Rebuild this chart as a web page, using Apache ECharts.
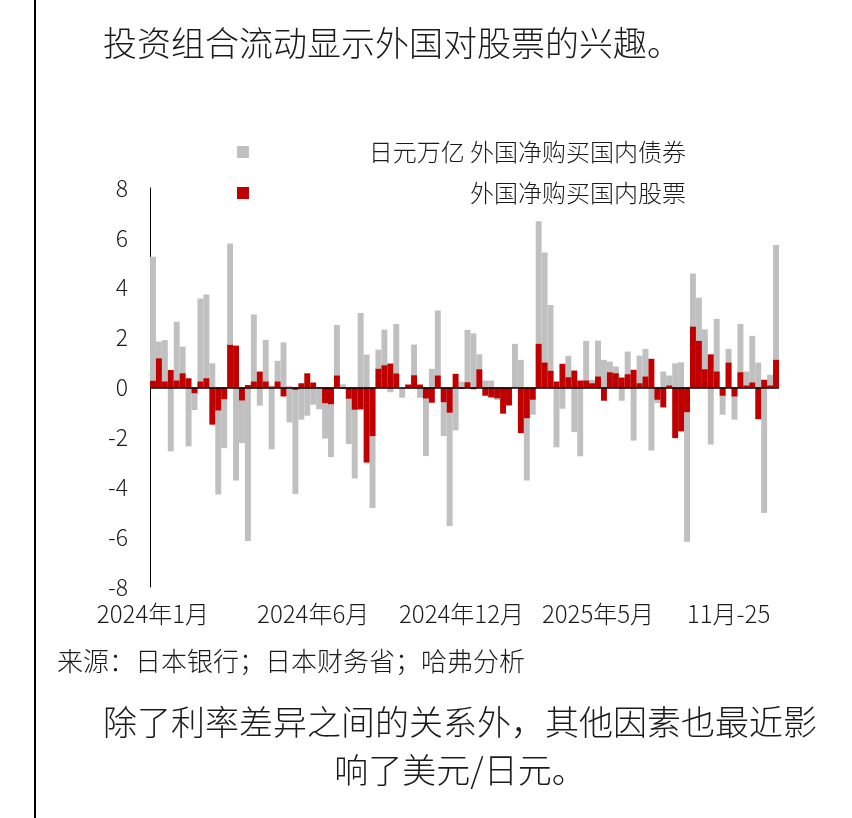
<!DOCTYPE html>
<html>
<head>
<meta charset="utf-8">
<script src="https://cdn.jsdelivr.net/npm/echarts@6/dist/echarts.min.js"></script>
<style>
    html, body { margin: 0; padding: 0; background: #fff; }
    #chart { width: 852px; height: 818px; position: relative; }
    #edge { position: absolute; left: 34px; top: 0; width: 2px; height: 818px; background: #000; }
</style>
</head>
<body>
<div id="chart"></div>
<div id="edge"></div>
<script>
// 每周数据 2024年1月 - 2025年12月 (日元万亿)
var bondName = '日元万亿 外国净购买国内债券';
var stockName = '外国净购买国内股票';

var bonds = [
    5.24, 1.84, 1.9, -2.56, 2.64, 1.64, -2.36, -0.9, 3.57, 3.73,
    0.97, -4.29, -2.43, 5.77, -3.73, -2.23, -6.16, 2.93, -0.73, 1.91,
    -2.48, 1.07, 1.81, -1.4, -4.27, -1.29, -1.13, -0.69, -0.87, -2.05,
    -2.79, 2.51, 0.13, -2.27, -3.65, 2.99, 1.32, -4.83, 1.52, 2.32,
    -0.19, 2.55, -0.41, -0.05, 1.72, -0.41, -2.75, 0.75, 3.09, -1.95,
    -5.55, -1.72, 0.23, 2.31, 2.17, 1.33, 0.28, 0.28, -0.5, -0.2,
    0, 1.75, 1.11, -3.73, -1.09, 6.67, 5.41, 3.31, -2.4, -0.85,
    1.27, -1.79, -2.76, 1.87, 0.3, 1.88, 1.11, 1.04, 0.84, -0.53,
    1.44, -2.13, 1.28, 1.55, -2.53, -0.63, 0.64, 0.48, 0.97, 1.01,
    -6.19, 4.57, 3.6, 2.33, -2.29, 2.75, -1.09, 1.55, -1.29, 2.55,
    0.64, 2.07, 1.0, -5.03, 0.51, 5.71
];

var stocks = [
    0.27, 1.17, 0.24, 0.7, 0.28, 0.57, 0.37, -0.23, 0.24, 0.37,
    -1.49, -0.92, -0.47, 1.71, 1.68, -0.52, 0.1, 0.24, 0.64, 0.24,
    0.04, 0.24, -0.36, 0.03, -0.09, 0.17, 0.57, 0.2, -0.03, -0.63,
    -0.67, 0.48, -0.05, -0.45, -0.89, -0.88, -3.01, -1.95, 0.75, 0.89,
    0.96, 0.56, 0.0, 0.12, 0.49, 0.12, -0.44, -0.61, 0.48, -0.59,
    -1.01, 0.55, -0.05, 0.21, -0.07, 0.73, -0.33, -0.4, -0.43, -1.05,
    -0.72, 0.02, -1.83, -1.23, -0.49, 1.75, 1.0, 0.67, 0.24, 0.95,
    0.41, 0.68, 0.28, 0.28, 0.17, 0.44, -0.53, 0.61, 0.57, 0.4,
    0.53, 0.71, 0.17, 0.44, 1.15, -0.49, -0.8, 0.08, -2.03, -1.76,
    -0.99, 2.44, 1.87, 0.73, 1.33, 0.64, -0.33, 1.0, -0.36, 0.61,
    0.08, 0.2, -1.27, 0.31, 0.08, 1.11
];

// x轴标签及其所在的周序号
var tickLabels = ['2024年1月', '2024年6月', '2024年12月', '2025年5月', '11月-25'];
var tickIndex = [0, 27, 52, 75, 97];

var font = "'Noto Sans CJK SC', 'Noto Sans', sans-serif";
var ink = '#1a1a1a';

var weeks = bonds.map(function (v, i) { return String(i); });
var labelAt = {};
tickIndex.forEach(function (idx, k) { labelAt[idx] = tickLabels[k]; });

var myChart = echarts.init(document.getElementById('chart'));

var legendText = function (top, name) {
    return {
        show: true,
        data: [name],
        left: 237,
        top: top,
        padding: 0,
        icon: 'rect',
        itemWidth: 12,
        itemHeight: 12,
        selectedMode: false,
        formatter: '{t|{name}}',
        textStyle: {
            rich: {
                t: { width: 432, align: 'right', fontSize: 24, lineHeight: 26, fontFamily: font, fontWeight: 300, color: ink }
            }
        }
    };
};

var option = {
    backgroundColor: '#fff',
    animation: false,
    textStyle: { fontFamily: font },
    title: [
        {
            text: '投资组合流动显示外国对股票的兴趣。',
            left: 103,
            top: 26,
            padding: 0,
            textStyle: { fontSize: 34, fontWeight: 300, color: ink, fontFamily: font }
        },
        {
            text: '来源：日本银行；日本财务省；哈弗分析',
            left: 57,
            top: 648,
            padding: 0,
            textStyle: { fontSize: 26, fontWeight: 300, color: ink, fontFamily: font }
        }
    ],
    graphic: [
        {
            type: 'text',
            x: 460,
            y: 698,
            style: {
                text: '除了利率差异之间的关系外，其他因素也最近影\n响了美元/日元。',
                textAlign: 'center',
                fontSize: 34,
                fontWeight: 300,
                lineHeight: 48,
                fontFamily: font,
                fill: ink
            }
        }
    ],
    legend: [legendText(140, bondName), legendText(181, stockName)],
    grid: { left: 150, right: 73, top: 188, bottom: 231 },
    xAxis: {
        type: 'category',
        data: weeks,
        axisLine: { show: false, onZero: false },
        axisTick: { show: false },
        axisLabel: {
            interval: 0,
            margin: 15,
            fontSize: 24,
            fontWeight: 300,
            color: ink,
            fontFamily: font,
            formatter: function (v, i) { return labelAt[i] || ''; }
        },
        splitLine: { show: false }
    },
    yAxis: {
        type: 'value',
        min: -8,
        max: 8,
        interval: 2,
        axisLine: { show: true, lineStyle: { color: '#000', width: 1 } },
        axisTick: { show: false },
        axisLabel: { margin: 22, fontSize: 23, fontWeight: 300, color: ink, fontFamily: font },
        splitLine: { show: false }
    },
    series: [
        {
            name: bondName,
            type: 'bar',
            data: bonds,
            barGap: '-100%',
            barCategoryGap: '0%',
            itemStyle: { color: '#c0c0c0' }
        },
        {
            name: stockName,
            type: 'bar',
            data: stocks,
            barGap: '-100%',
            barCategoryGap: '0%',
            itemStyle: { color: '#c00000' },
            markLine: {
                silent: true,
                symbol: 'none',
                label: { show: false },
                lineStyle: { color: '#000', width: 1.5, type: 'solid' },
                data: [{ yAxis: 0 }]
            }
        }
    ]
};

myChart.setOption(option);
window.addEventListener('resize', function () { myChart.resize(); });
</script>
</body>
</html>
